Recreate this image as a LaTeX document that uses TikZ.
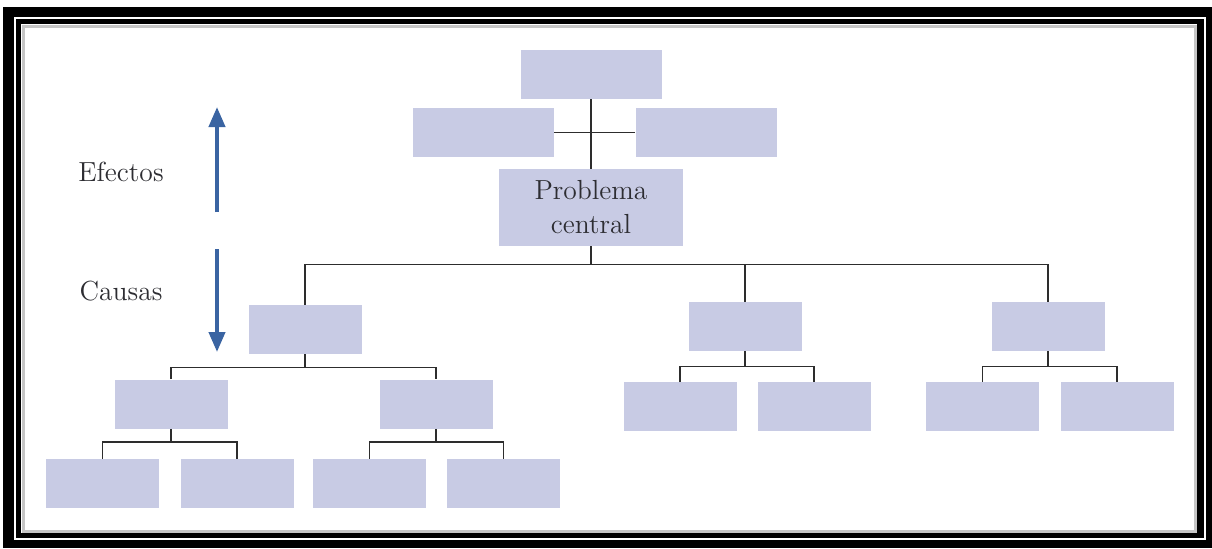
\documentclass[tikz,border=0pt]{standalone}
\usepackage{amsmath}
\usetikzlibrary{calc, arrows.meta}
\definecolor{boxfill}{RGB}{200,203,228}
\definecolor{arrowblue}{RGB}{58,100,162}
\definecolor{textgray}{RGB}{45,45,50}
\definecolor{linegray}{RGB}{45,45,45}

\begin{document}
\begin{tikzpicture}[x=0.5pt,y=-0.5pt,
        cell/.style={fill=boxfill,inner sep=0pt,minimum width=56.5pt,minimum height=24.5pt},
        wide/.style={cell,minimum width=70.5pt},
        link/.style={linegray,line width=0.8pt},
        sense/.style={arrowblue,line width=2pt,-{Triangle[width=8pt,length=10pt]}},
        lbl/.style={text=textgray,font=\fontsize{13.8}{17}\selectfont}]
            \useasboundingbox (0,0) rectangle (1212,548);
            \fill[black] (3,7) rectangle (1212,548);
            \draw[white,line width=1.2pt] (15,18) rectangle (1205,539);
            \fill[white] (21,24) rectangle (1197,533);
            \draw[gray!45,line width=1.5pt] (23,26) rectangle (1195,531);
            \node[wide] (top) at (591,74.5) {};
            \node[wide] (effL) at (483.5,132.5) {};
            \node[wide] (effR) at (706,132.5) {};
            \node[cell,minimum width=92pt,minimum height=38.5pt,lbl,align=center] (core) at (591,207.5) {Problema\\central};
            \draw[link] (top.south)--(core.north);
            \draw[link] (effL.east)--(effR.west);
            \node[cell] (cL) at (305,329.5) {};
            \node[cell] (cM) at (745,326.5) {};
            \node[cell] (cR) at (1048,326.5) {};
            \draw[link] (core.south)--++(0,18)coordinate(bar);
            \draw[link] (cL.north)|-(bar)-|(cR.north);
            \draw[link] (bar)-|(cM.north);
            \node[cell] (cLa) at (171,404) {};
            \node[cell] (cLb) at (436,404) {};
            \draw[link] (cL.south)--++(0,13)coordinate(barL);
            \draw[link] (cLa.north)|-(barL)-|(cLb.north);
            \node[cell] (cLaa) at (102.5,483.5) {};
            \node[cell] (cLab) at (237,483.5) {};
            \draw[link] (cLa.south)--++(0,13)coordinate(barLa);
            \draw[link] (cLaa.north)|-(barLa)-|(cLab.north);
            \node[cell] (cLba) at (369.5,483.5) {};
            \node[cell] (cLbb) at (503.5,483.5) {};
            \draw[link] (cLb.south)--++(0,13)coordinate(barLb);
            \draw[link] (cLba.north)|-(barLb)-|(cLbb.north);
            \node[cell] (cMa) at (680,406.5) {};
            \node[cell] (cMb) at (814,406.5) {};
            \draw[link] (cM.south)--++(0,15)coordinate(barM);
            \draw[link] (cMa.north)|-(barM)-|(cMb.north);
            \node[cell] (cRa) at (982.5,406.5) {};
            \node[cell] (cRb) at (1117,406.5) {};
            \draw[link] (cR.south)--++(0,15)coordinate(barR);
            \draw[link] (cRa.north)|-(barR)-|(cRb.north);
            \node[lbl] (effText) at (121,172) {Efectos};
            \node[lbl] (causeText) at (121,291) {Causas};
            \coordinate (upStart) at (217,212);
            \coordinate (upEnd) at (217,107);
            \coordinate (downStart) at (217,249);
            \coordinate (downEnd) at (217,352);
            \draw[sense] (upStart)--(upEnd);
            \draw[sense] (downStart)--(downEnd);
\end{tikzpicture}
\end{document}
